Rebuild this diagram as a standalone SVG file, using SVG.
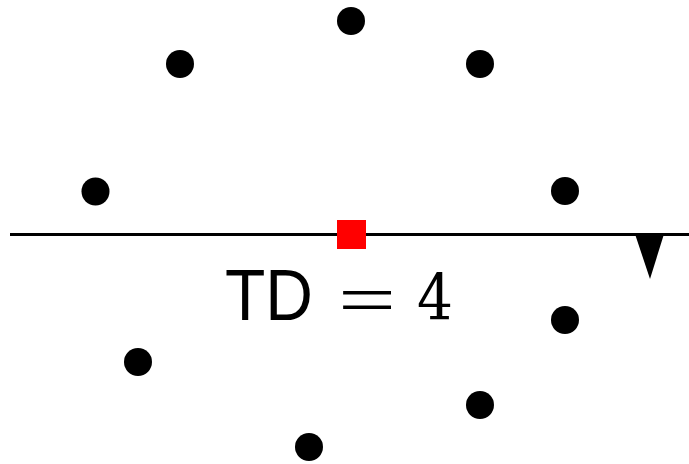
<svg xmlns="http://www.w3.org/2000/svg" width="689" height="464" viewBox="0 0 689 464">
<style>
.pt{fill:#000}
.sans{fill:#000;font-family:"Liberation Sans",Arial,sans-serif}
.serif{fill:#000;font-family:"DejaVu Serif","Liberation Serif",serif}
.eq{fill:#000;font-family:"Liberation Serif","Times New Roman",serif}
</style>
<rect width="689" height="464" fill="#fff"/>
<g id="connectors">
<line x1="10" y1="234.5" x2="689" y2="234.5" stroke="#000" stroke-width="3"/>
</g>
<g id="points">
<circle id="p1" class="pt" cx="351" cy="21" r="14"/>
<circle id="p2" class="pt" cx="180" cy="64" r="14"/>
<circle id="p3" class="pt" cx="480" cy="64" r="14"/>
<circle id="p4" class="pt" cx="95.5" cy="191.5" r="14"/>
<circle id="p5" class="pt" cx="565" cy="191" r="14"/>
<circle id="p6" class="pt" cx="565" cy="320" r="14"/>
<circle id="p7" class="pt" cx="138" cy="362" r="14"/>
<circle id="p8" class="pt" cx="480" cy="405" r="14"/>
<circle id="p9" class="pt" cx="309" cy="447" r="14"/>
</g>
<g id="center">
<rect x="337" y="220" width="29" height="29" fill="#f00"/>
</g>
<g id="marker">
<polygon points="635,234 664,234 650,279" fill="#000"/>
</g>
<g id="label">
<text class="sans" x="225" y="320" font-size="72" textLength="88" lengthAdjust="spacingAndGlyphs">TD</text>
<text class="eq" x="338" y="324" font-size="72" textLength="58" lengthAdjust="spacingAndGlyphs">=</text>
<text class="serif" x="417" y="320" font-size="64" textLength="36" lengthAdjust="spacingAndGlyphs">4</text>
</g>
</svg>
